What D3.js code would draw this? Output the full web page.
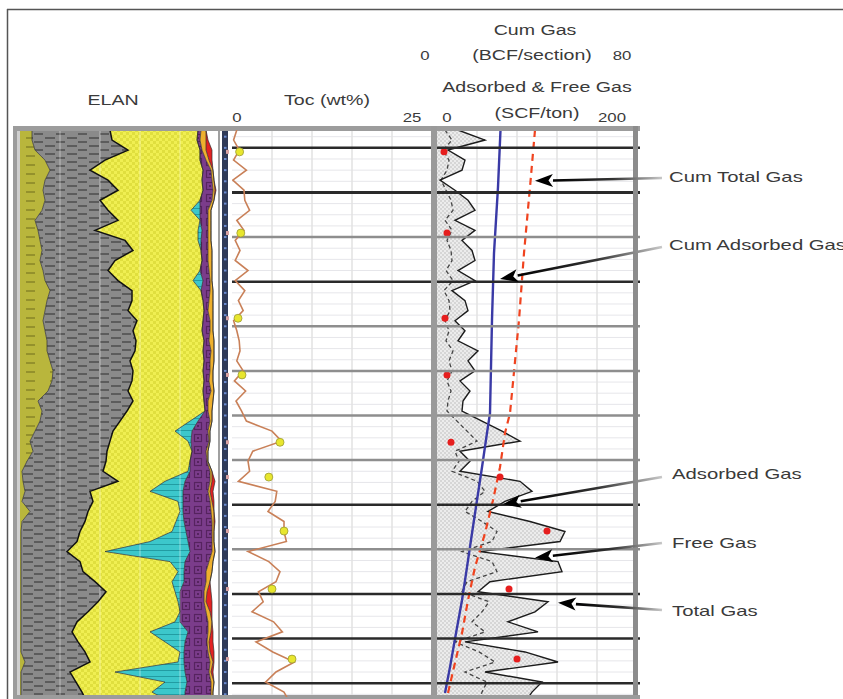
<!DOCTYPE html>
<html>
<head>
<meta charset="utf-8">
<script src="https://cdn.jsdelivr.net/npm/d3@7"></script>
<style>
  body { margin: 0; background: #fff; }
  text { font-family: "Liberation Sans", Arial, sans-serif; fill: #3a3a3a; }
</style>
</head>
<body>
<svg id="chart" width="843" height="699"></svg>
<script>
// ---- sample grid (ft) ----
const topDepth = 8196, baseDepth = 8323.1, sampleStep = 2.25;
const depth = d3.range(58).map(i => topDepth + i * sampleStep);

// ---- ELAN volumes (%) ----
const vOlive = [6,6,7.5,12.5,15,12.5,11.5,12.5,11,7.5, 9,10,11,10,11.5,12.5,15,13.5,12.5,11.5,
  12.5,13.5,13.5,15,16.5,16,14,9,11,10, 7.5,5,6.5,3.5,1,1.5,2.5,1,5,1,
  0.5,0.5,0.5,0.5,0.5,0.5,0.5,0.5,0.5,0.5, 0.5,0.5,0.5,2.5,0.5,0.5,0.5,0.5];
const vShale = [39,40,46.5,30,20,31.5,37.5,27.5,33,41.5, 28.5,42.5,45.5,37.5,32.5,36.5,41,42.5,41.5,47,
  44,44.5,44,40,40,40,40,47.5,42.5,40, 39,40,37,39.5,40.5,47.5,32.5,35.5,29,31.5,
  29.5,28,23,29.5,31,37,42.5,38.5,33.5,28, 25.5,28.5,32,32.5,24.5,27.5,30.5,33];
const vQuartz = [44,42.5,36,47.5,56.5,47,42.5,50,41.5,41, 51.5,36.5,34,43.5,46,37.5,34.5,35.5,38,33,
  34.5,34,34,37,35,36,37.5,35.5,39,35, 31,39,42.5,42,42.5,23.5,30,42.5,46,45.5,
  46,36.5,19,45,47.5,38.5,34.5,40,46,49, 39,43.5,47.5,44,22.5,44.5,35,41.5];
const vCalcite = [0,0,0,0,0,0,0,0,4.5,0, 2,1.5,0,0,0,5,0,0,0,0,
  0,0,0,0,0,0,0,0,0,4, 8.5,1.5,0,0,1,10,16.5,2.5,1.5,4,
  7,19,42.5,7.5,3,6,2.5,1,0,2.5, 19,10,2,3,35,11,16.5,7.5];
const vDolomite = [1.5,1.5,1,3,4,5,5,6,4,4, 3,3.5,3.5,3,4.5,3.5,4.5,3,2,3.5,
  4,2.5,4,3,3.5,2.5,4,2,1.5,6, 8,9,7,8.5,10,12.5,12.5,13.5,14,14,
  13,12,11,12,11,11,12,12,13,14, 10,11,12,13,12,12,13,13];
const vKerogen = [2.5,3,2,1.5,1,1,1,1,1.5,1.5, 1.5,1.5,2,2,1.5,1,1.5,2,2.5,1.5,
  1.5,2.5,1.5,2,1.5,2,1.5,2.5,2,1, 1,0.5,1,0.5,1,1,1,1,1.5,1,
  1,1,1.5,2,3,2,1.5,1,2,2, 1.5,1,1,1.5,1,1.5,1,1];
const vPyrite = [0,1,3,1.5,0,0,0.5,0,0,0, 0,0,0,0,0,0,0,0,0,0,
  0,0,0,0,0,0,0,0,0,0, 0,0,0,0,0,1.5,1.5,1,0,0.5,
  0,0,0,0,0,0,2,3,1,0, 1,2,2,0.5,1,0,0,0];

// ---- TOC (wt%) ----
const toc = [0.6,0.2,0.9,0.2,1.8,0.1,1.5,1.6,2.2,0.6, 1.5,0.4,1.0,0.4,2.0,0.4,1.6,0.8,1.4,0.2,
  0.6,0.9,1.0,0.6,1.4,0.3,1.7,0.5,1.2,1.8, 5.0,6.2,2.6,2.0,2.2,0.8,5.6,5.4,4.5,6.5,
  6.5,6.8,2.0,4.6,6.0,5.5,3.3,3.9,2.5,5.2, 6.3,3.0,5.1,7.8,5.5,4.2,6.5,7.2];

// ---- gas content (SCF/ton) ----
const totalGas = [21,48,11,28,25,3,18,31,38,18, 38,25,35,38,21,38,15,28,31,18,
  28,21,41,31,38,23,33,26,25,45, 65,83,23,33,23,83,95,68,51,93,
  128,123,43,121,125,53,41,111,98,71, 101,28,88,121,48,105,95,88];
const adsorbedGas = [8,15,6,12,10,4,9,14,16,8, 15,10,14,15,9,16,7,12,13,8,
  12,9,16,12,15,10,14,11,10,20, 30,40,18,22,15,40,48,35,28,45,
  60,55,25,55,60,30,25,52,45,35, 48,18,42,58,28,50,45,42];

// ---- core samples ----
const coreDepth = [8200.9, 8219.1, 8238.2, 8250.9, 8266.0, 8273.8, 8285.9, 8298.9, 8314.6];
const coreToc = [0.95, 1.1, 0.75, 1.25, 6.0, 4.6, 6.5, 5.0, 7.5];
const coreGas = [7, 10, 8, 10, 14, 63, 110, 72, 80];

// ---- cumulative gas (BCF/section) ----
const cumDepth = [8196, 8208.8, 8223.6, 8238.6, 8259.5, 8263.9, 8271.6, 8279.0, 8286.4, 8294.0, 8301.4, 8308.8, 8316.4, 8322.2];
const cumAdsorbed = [25.4, 24.4, 22.8, 22.0, 21.2, 20.0, 18.0, 16.0, 14.0, 12.0, 10.0, 7.6, 5.2, 3.2];
const cumTotal = [39.2, 37.2, 34.8, 32.8, 29.2, 27.2, 25.2, 22.4, 19.2, 15.2, 12.4, 10.0, 6.8, 4.4];

const calloutNames = ["Cum Total Gas", "Cum Adsorbed Gas", "Adsorbed Gas", "Free Gas", "Total Gas"];

// ---------------------------------------------------------------
const svg = d3.select("#chart");
const defs = svg.append("defs");

const y = d3.scaleLinear().domain([topDepth, baseDepth]).range([130, 697]);
const xElan = d3.scaleLinear().domain([0, 100]).range([20, 220]);
const xToc = d3.scaleLinear().domain([0, 25]).range([232, 432]);
const xGas = d3.scaleLinear().domain([0, 200]).range([437, 637]);
const xCum = d3.scaleLinear().domain([0, 80]).range([437, 637]);

function pattern(id, w, h, bg, draw) {
  const p = defs.append("pattern").attr("id", id)
    .attr("patternUnits", "userSpaceOnUse").attr("width", w).attr("height", h);
  p.append("rect").attr("width", w).attr("height", h).attr("fill", bg);
  draw(p);
}
pattern("pOlive", 24, 9, "#b9b63c", p => {
  p.append("rect").attr("x", 2).attr("y", 2).attr("width", 9).attr("height", 2).attr("fill", "#94912c");
});
pattern("pShale", 22, 8, "#8a8a8a", p => {
  p.append("rect").attr("x", 1).attr("y", 1).attr("width", 10).attr("height", 2).attr("fill", "#5c5c5c");
  p.append("rect").attr("x", 12).attr("y", 5).attr("width", 9).attr("height", 2).attr("fill", "#5c5c5c");
});
pattern("pQuartz", 6, 6, "#f0ef52", p => {
  p.append("rect").attr("width", 3).attr("height", 3).attr("fill", "#e0df3e");
  p.append("rect").attr("x", 3).attr("y", 3).attr("width", 3).attr("height", 3).attr("fill", "#e0df3e");
});
pattern("pCalcite", 10, 6, "#3cc7cb", p => {
  p.append("rect").attr("y", 4).attr("width", 10).attr("height", 1).attr("fill", "#229ca2");
});
pattern("pDolomite", 12, 12, "#7b3c8b", p => {
  p.append("rect").attr("x", 2.5).attr("y", 2.5).attr("width", 7).attr("height", 7)
    .attr("fill", "none").attr("stroke", "#56235f").attr("stroke-width", 1.2);
  p.append("rect").attr("x", 5).attr("y", 5).attr("width", 2).attr("height", 2).attr("fill", "#56235f");
});
pattern("pGas", 4, 4, "#ececec", p => {
  p.append("rect").attr("width", 2).attr("height", 2).attr("fill", "#d6d6d6");
  p.append("rect").attr("x", 2).attr("y", 2).attr("width", 2).attr("height", 2).attr("fill", "#d6d6d6");
});

defs.append("clipPath").attr("id", "clipElan")
  .append("rect").attr("x", 20).attr("y", 130).attr("width", 198).attr("height", 567);
defs.append("clipPath").attr("id", "clipToc")
  .append("rect").attr("x", 232).attr("y", 130).attr("width", 199).attr("height", 567);
defs.append("clipPath").attr("id", "clipGas")
  .append("rect").attr("x", 437).attr("y", 130).attr("width", 196).attr("height", 567);

// outer frame
svg.append("line").attr("x1", 7).attr("x2", 843).attr("y1", 9.5).attr("y2", 9.5)
  .attr("stroke", "#555").attr("stroke-width", 1.5);
svg.append("line").attr("x1", 7.5).attr("x2", 7.5).attr("y1", 9).attr("y2", 699)
  .attr("stroke", "#555").attr("stroke-width", 1.5);

// ---- ELAN track ----
const keys = ["olive", "shale", "quartz", "calcite", "dolomite", "kerogen", "pyrite"];
const fills = {olive: "url(#pOlive)", shale: "url(#pShale)", quartz: "url(#pQuartz)",
  calcite: "url(#pCalcite)", dolomite: "url(#pDolomite)", kerogen: "#eeb02e", pyrite: "#e32222"};
const rows = depth.map((d, i) => ({depth: d, olive: vOlive[i], shale: vShale[i], quartz: vQuartz[i],
  calcite: vCalcite[i], dolomite: vDolomite[i], kerogen: vKerogen[i], pyrite: vPyrite[i]}));
const stacked = d3.stack().keys(keys)(rows);

const gElan = svg.append("g").attr("clip-path", "url(#clipElan)");
const elanArea = d3.area()
  .y(d => y(d.data.depth))
  .x0(d => xElan(d[0]))
  .x1(d => xElan(d[1]));
gElan.selectAll("path.layer").data(stacked).join("path")
  .attr("class", "layer")
  .attr("d", elanArea)
  .attr("fill", d => fills[d.key]);

gElan.selectAll("line.vg").data([20, 40, 60, 80]).join("line")
  .attr("class", "vg")
  .attr("x1", d => xElan(d)).attr("x2", d => xElan(d))
  .attr("y1", 130).attr("y2", 697)
  .attr("stroke", "#fff").attr("stroke-opacity", 0.3).attr("stroke-width", 1.5);

const edge = d3.line().y(d => y(d.data.depth)).x(d => xElan(d[1]));
gElan.selectAll("path.edge").data(stacked).join("path")
  .attr("class", "edge")
  .attr("d", edge)
  .attr("fill", "none")
  .attr("stroke", d => d.key === "shale" ? "#111" : "#2e2e2e")
  .attr("stroke-width", d => d.key === "shale" ? 1.5 : 0.7);

// ---- grids for Toc & gas tracks ----
const minorDepths = d3.range(8197.5, baseDepth, 2.5);
const majorDepths = d3.range(8200, 8321, 10);
const majorDark = [1, 1, 0, 1, 0, 0, 0, 0, 1, 0, 1, 1, 1];

[[232, 431], [437, 633]].forEach(([a, b]) => {
  svg.append("g").selectAll("line").data(minorDepths).join("line")
    .attr("x1", a).attr("x2", b)
    .attr("y1", d => y(d)).attr("y2", d => y(d))
    .attr("stroke", "#e6e6ea").attr("stroke-width", 1);
});
svg.append("g").selectAll("line").data([5, 10, 15, 20]).join("line")
  .attr("x1", d => xToc(d)).attr("x2", d => xToc(d)).attr("y1", 130).attr("y2", 697)
  .attr("stroke", "#e2e2e2").attr("stroke-width", 1.5);
svg.append("g").selectAll("line").data([40, 80, 120, 160]).join("line")
  .attr("x1", d => xGas(d)).attr("x2", d => xGas(d)).attr("y1", 130).attr("y2", 697)
  .attr("stroke", "#e2e2e2").attr("stroke-width", 1.5);

// gas fill under majors
const gGas = svg.append("g").attr("clip-path", "url(#clipGas)");
gGas.append("path").datum(depth)
  .attr("d", d3.area().y(d => y(d)).x0(xGas(0)).x1((d, i) => xGas(totalGas[i])))
  .attr("fill", "url(#pGas)");

svg.append("g").selectAll("line").data(majorDepths).join("line")
  .attr("x1", 232).attr("x2", 640)
  .attr("y1", d => y(d)).attr("y2", d => y(d))
  .attr("stroke", (d, i) => majorDark[i] ? "#2a2a2a" : "#8e8e8e")
  .attr("stroke-width", (d, i) => i === 1 ? 3 : 2.5);

// ---- track borders ----
svg.append("rect").attr("x", 13).attr("y", 126).attr("width", 627).attr("height", 5).attr("fill", "#9c9c9c");
svg.append("rect").attr("x", 13).attr("y", 126).attr("width", 4).attr("height", 573).attr("fill", "#9c9c9c");
svg.append("rect").attr("x", 17).attr("y", 131).attr("width", 3).attr("height", 568).attr("fill", "#cfcfcf");
svg.append("rect").attr("x", 218).attr("y", 131).attr("width", 2).attr("height", 568).attr("fill", "#a0a0a0");
svg.append("rect").attr("x", 222).attr("y", 131).attr("width", 6).attr("height", 568).attr("fill", "#2f3a58");
svg.append("g").selectAll("rect").data(minorDepths).join("rect")
  .attr("x", 224).attr("y", d => y(d) - 1).attr("width", 2.5).attr("height", 2).attr("fill", "#6b8bd0");
svg.append("g").selectAll("rect").data(coreDepth).join("rect")
  .attr("x", 226).attr("y", d => y(d) - 2).attr("width", 3).attr("height", 4).attr("fill", "#d9a3a3");
svg.append("rect").attr("x", 431).attr("y", 126).attr("width", 6).attr("height", 573).attr("fill", "#9a9a9a");
svg.append("rect").attr("x", 633).attr("y", 126).attr("width", 5).attr("height", 573).attr("fill", "#8c8c8c");
svg.append("rect").attr("x", 13).attr("y", 695).attr("width", 627).attr("height", 4).attr("fill", "#9c9c9c");

// ---- Toc track ----
const gToc = svg.append("g").attr("clip-path", "url(#clipToc)");
gToc.append("path").datum(depth)
  .attr("d", d3.line().y(d => y(d)).x((d, i) => xToc(toc[i])))
  .attr("fill", "none").attr("stroke", "#c98058").attr("stroke-width", 1.6);
gToc.selectAll("circle").data(coreDepth).join("circle")
  .attr("cx", (d, i) => xToc(coreToc[i])).attr("cy", d => y(d)).attr("r", 4)
  .attr("fill", "#e8e62e").attr("stroke", "#9a9a34").attr("stroke-width", 0.8);

// ---- gas track ----
gGas.append("path").datum(depth)
  .attr("d", d3.line().y(d => y(d)).x((d, i) => xGas(adsorbedGas[i])))
  .attr("fill", "none").attr("stroke", "#444").attr("stroke-width", 1.3)
  .attr("stroke-dasharray", "4,3");
gGas.append("path").datum(depth)
  .attr("d", d3.line().y(d => y(d)).x((d, i) => xGas(totalGas[i])))
  .attr("fill", "none").attr("stroke", "#1c1c1c").attr("stroke-width", 1.4);
gGas.append("path").datum(cumDepth)
  .attr("d", d3.line().y(d => y(d)).x((d, i) => xCum(cumAdsorbed[i])))
  .attr("fill", "none").attr("stroke", "#3a3aa6").attr("stroke-width", 2.4);
gGas.append("path").datum(cumDepth)
  .attr("d", d3.line().y(d => y(d)).x((d, i) => xCum(cumTotal[i])))
  .attr("fill", "none").attr("stroke", "#f0431f").attr("stroke-width", 2.2)
  .attr("stroke-dasharray", "7,5");
gGas.selectAll("circle").data(coreDepth).join("circle")
  .attr("cx", (d, i) => xGas(coreGas[i])).attr("cy", d => y(d)).attr("r", 3.5)
  .attr("fill", "#e61e1e");

// ---- headers ----
function label(x, yy, str, size, anchor) {
  svg.append("text")
    .attr("transform", `translate(${x},${yy}) scale(1.4,1)`)
    .attr("text-anchor", anchor || "middle")
    .attr("font-size", size)
    .text(str);
}
label(113, 105, "ELAN", 14);
label(327, 105, "Toc (wt%)", 14);
label(xToc(0) + 5, 122, "0", 12);
label(xToc(25) - 20, 122, "25", 12);
label(535, 35, "Cum Gas", 14);
label(xCum(0) - 12, 60, "0", 12);
label(532, 60, "(BCF/section)", 14);
label(xCum(80) - 15, 60, "80", 12);
label(537, 92, "Adsorbed & Free Gas", 14);
label(xGas(0) + 10, 122, "0", 12);
label(537, 118, "(SCF/ton)", 14);
label(xGas(200) - 25, 122, "200", 12);

// ---- callouts ----
const callouts = [
  {tx: 669, ty: 182, lx: 662, ly: 178, hx: xCum(39.2), hy: y(8207.4)},
  {tx: 669, ty: 250, lx: 662, ly: 247, hx: xCum(25.2), hy: y(8229.4)},
  {tx: 672, ty: 479, lx: 662, ly: 477, hx: xGas(66), hy: y(8279.9)},
  {tx: 672, ty: 548, lx: 662, ly: 543, hx: xGas(98), hy: y(8291.9)},
  {tx: 672, ty: 616, lx: 662, ly: 610, hx: xGas(121), hy: y(8302)}
];
callouts.forEach((c, i) => {
  label(c.tx, c.ty, calloutNames[i], 14.5, "start");
  const ang = Math.atan2(c.hy - c.ly, c.hx - c.lx);
  const len = 18, hw = 6.5;
  const bx = c.hx - len * Math.cos(ang), by = c.hy - len * Math.sin(ang);
  const gid = "ag" + i;
  const g = defs.append("linearGradient").attr("id", gid).attr("gradientUnits", "userSpaceOnUse")
    .attr("x1", c.lx).attr("y1", c.ly).attr("x2", bx).attr("y2", by);
  g.append("stop").attr("offset", "0").attr("stop-color", "#c8c8c8");
  g.append("stop").attr("offset", "0.45").attr("stop-color", "#333");
  g.append("stop").attr("offset", "1").attr("stop-color", "#000");
  svg.append("line").attr("x1", c.lx).attr("y1", c.ly).attr("x2", bx).attr("y2", by)
    .attr("stroke", `url(#${gid})`).attr("stroke-width", 2.6);
  const px = -Math.sin(ang), py = Math.cos(ang);
  svg.append("path")
    .attr("d", `M${c.hx},${c.hy}L${bx + px * hw},${by + py * hw}L${bx + (c.hx - bx) * 0.25},${by + (c.hy - by) * 0.25}L${bx - px * hw},${by - py * hw}Z`)
    .attr("fill", "#000");
});
</script>
</body>
</html>
